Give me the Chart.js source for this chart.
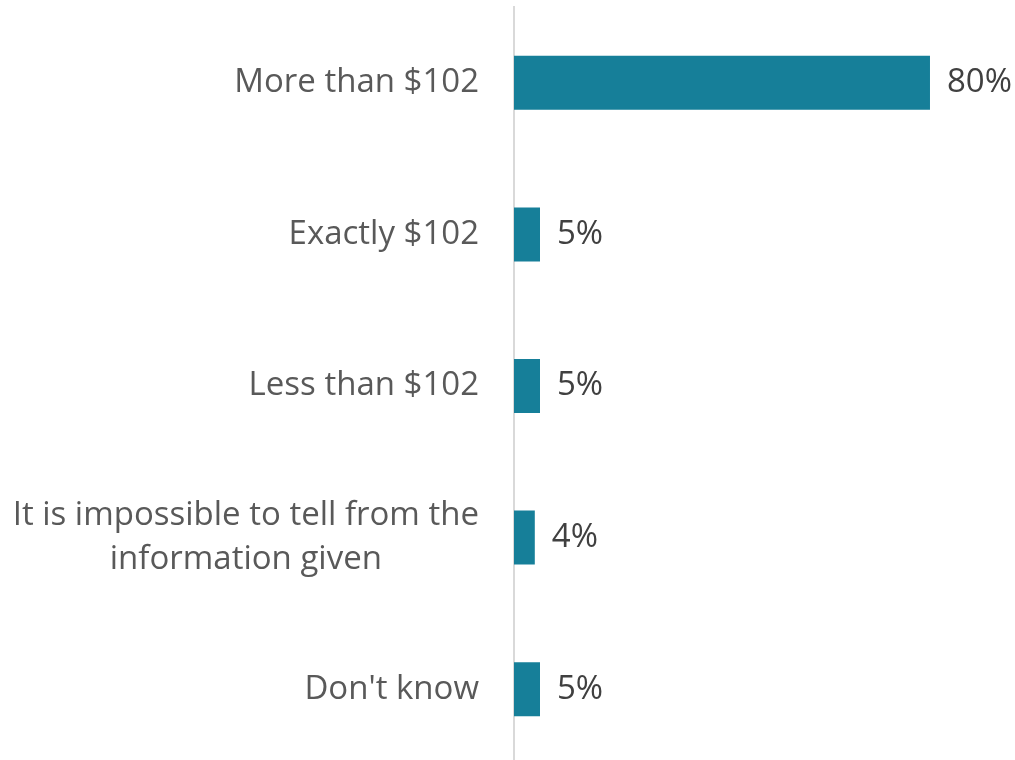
<!DOCTYPE html>
<html lang="en">
<head>
  <meta charset="UTF-8">
  <title>Survey responses</title>
  <script src="https://cdn.jsdelivr.net/npm/chart.js"></script>
  <style>
    html, body {
      margin: 0;
      padding: 0;
      background: #fff;
      overflow: hidden;
    }
    #wrap {
      width: 1015px;
      height: 765px;
    }
  </style>
</head>
<body>
  <div id="wrap"><canvas id="grafico"></canvas></div>

  <script>
    const categorias = [
      "More than $102",
      "Exactly $102",
      "Less than $102",
      ["It is impossible to tell from the", "information given"],
      "Don't know"
    ];
    const valores = [80, 5, 5, 4, 5];

    const FONTE = "'Open Sans', sans-serif";
    const TAM = 33;

    // category labels, each line centred on the widest line of its label
    const rotulosY = {
      id: "rotulosY",
      afterDraw(chart) {
        const ctx = chart.ctx;
        const y = chart.scales.y;
        const direita = chart.chartArea.left - 35;
        const altLinha = 44;
        ctx.save();
        ctx.font = `${TAM}px ${FONTE}`;
        ctx.fillStyle = "#595959";
        ctx.textAlign = "center";
        ctx.textBaseline = "middle";
        categorias.forEach((cat, i) => {
          const linhas = Array.isArray(cat) ? cat : [cat];
          const larg = Math.max(...linhas.map(l => ctx.measureText(l).width));
          const cx = direita - larg / 2;
          const cy = y.getPixelForTick(i) - (linhas.length - 1) * altLinha / 2;
          linhas.forEach((l, k) => ctx.fillText(l, cx, cy + k * altLinha));
        });
        ctx.restore();
      }
    };

    // percentage labels to the right of each bar
    const rotulosValor = {
      id: "rotulosValor",
      afterDatasetsDraw(chart) {
        const ctx = chart.ctx;
        const meta = chart.getDatasetMeta(0);
        ctx.save();
        ctx.font = `${TAM}px ${FONTE}`;
        ctx.fillStyle = "#404040";
        ctx.textAlign = "left";
        ctx.textBaseline = "middle";
        meta.data.forEach((bar, i) => {
          ctx.fillText(valores[i] + "%", bar.x + 17, bar.y);
        });
        ctx.restore();
      }
    };

    const ctx = document.getElementById("grafico").getContext("2d");
    new Chart(ctx, {
      type: "bar",
      data: {
        labels: categorias,
        datasets: [{
          data: valores,
          backgroundColor: "#167f99",
          borderWidth: 0,
          barPercentage: 0.356,
          categoryPercentage: 1
        }]
      },
      options: {
        indexAxis: "y",
        responsive: true,
        maintainAspectRatio: false,
        animation: false,
        layout: { padding: { top: 7, bottom: 0, right: 0, left: 0 } },
        plugins: {
          legend: { display: false },
          tooltip: { enabled: false }
        },
        scales: {
          x: {
            display: false,
            min: 0,
            max: 96.35
          },
          y: {
            grid: { display: false },
            border: { display: true, color: "#d9d9d9", width: 2 },
            ticks: { display: false },
            afterFit(scale) {
              scale.width = 514;
            }
          }
        }
      },
      plugins: [rotulosY, rotulosValor]
    });
  </script>
</body>
</html>
